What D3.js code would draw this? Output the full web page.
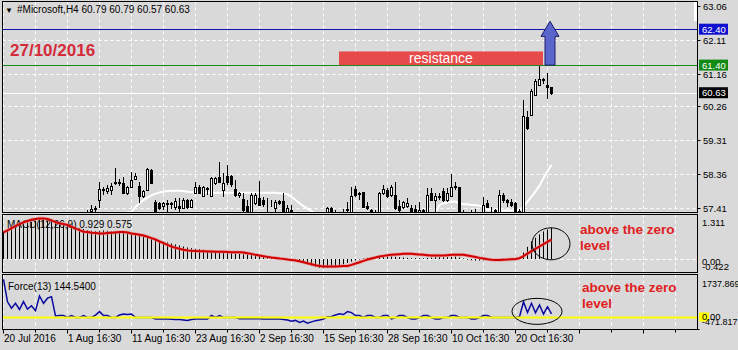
<!DOCTYPE html>
<html>
<head>
<meta charset="utf-8">
<script src="https://cdn.jsdelivr.net/npm/d3@7"></script>
<style>
  body { margin: 0; background: #d9d9d9; }
  svg { display: block; }
  text { font-family: "Liberation Sans", Arial, sans-serif; }
</style>
</head>
<body>
<script>
// ---- data (H4 bars, 20 Jul 2016 .. 27 Oct 2016) ----
// [open, high, low, close]; bars below 57.41 sit under the visible range
var ohlc = [
  [55.95,56.40,55.70,56.20],[56.20,56.50,56.00,56.35],[56.35,56.60,56.10,56.25],[56.25,56.45,55.90,56.05],
  [56.05,56.30,55.85,56.15],[56.15,56.55,56.05,56.45],[56.45,56.70,56.30,56.55],[56.55,56.90,56.45,56.80],
  [56.80,57.05,56.60,56.70],[56.70,56.95,56.50,56.85],[56.85,57.10,56.70,56.95],[56.95,57.15,56.75,56.85],
  [56.85,57.05,56.60,56.70],[56.70,56.90,56.40,56.50],[56.50,56.75,56.35,56.60],[56.60,56.85,56.45,56.70],
  [56.70,56.95,56.55,56.80],[56.80,57.00,56.60,56.75],[56.75,57.05,56.65,56.95],[56.95,57.20,56.80,57.05],
  [57.05,57.30,56.90,57.15],[57.15,57.35,57.00,57.25],[57.33,57.50,57.25,57.40],[57.42,57.47,57.30,57.39],
  [57.64,58.15,57.41,57.94],[57.92,58.01,57.78,57.94],[57.90,58.06,57.80,57.97],[57.92,58.11,57.78,58.03],
  [58.15,58.53,58.06,58.11],[58.15,58.22,58.03,58.11],[58.12,58.29,57.83,57.84],[57.84,58.03,57.78,57.99],
  [58.01,58.43,57.97,58.20],[58.22,58.39,58.20,58.31],[58.03,58.15,57.55,57.75],[57.75,57.92,57.69,57.90],
  [57.92,58.53,57.90,58.50],[58.48,58.50,58.08,58.11],[57.59,57.64,57.30,57.31],[57.55,57.59,57.36,57.41],
  [57.47,57.59,57.36,57.56],[57.55,57.64,57.31,57.52],[57.52,57.59,57.40,57.55],[57.45,57.69,57.36,57.62],
  [57.47,57.69,57.30,57.41],[57.43,57.69,57.38,57.64],[57.64,57.66,57.40,57.45],[57.45,57.66,57.41,57.64],
  [57.84,58.15,57.83,58.01],[58.01,58.06,57.80,57.84],[57.75,58.03,57.73,57.99],[57.97,58.01,57.78,57.94],
  [57.75,58.29,57.73,58.25],[58.11,58.29,58.06,58.25],[58.29,58.71,58.11,58.15],[57.92,58.39,57.73,58.11],
  [58.31,58.62,58.06,58.15],[58.31,58.34,58.01,58.09],[57.94,58.20,57.73,57.78],[57.78,57.87,57.69,57.85],
  [57.66,57.83,57.31,57.36],[57.47,57.64,57.30,57.31],[57.31,57.83,57.30,57.78],[57.55,57.83,57.50,57.78],
  [57.71,58.17,57.50,57.50],[57.64,57.73,57.45,57.52],[57.57,57.69,57.31,57.55],[57.55,57.64,57.45,57.57],
  [57.41,57.64,57.31,57.59],[57.61,57.64,57.50,57.55],[57.62,57.83,57.25,57.31],[57.31,57.50,57.25,57.41],
  [57.35,57.50,57.20,57.30],[57.20,57.30,56.80,56.90],[56.90,57.05,56.40,56.50],[56.50,56.70,56.10,56.25],
  [56.25,56.60,56.10,56.45],[56.45,56.80,56.30,56.70],[56.70,56.95,56.50,56.85],[56.85,57.15,56.70,57.00],
  [57.00,57.25,56.90,57.15],[57.30,57.45,57.20,57.43],[57.43,57.44,57.20,57.31],[57.25,57.35,57.00,57.10],
  [57.10,57.30,56.95,57.20],[57.20,57.38,57.05,57.30],[57.35,57.59,57.20,57.38],[57.31,58.01,57.20,57.75],
  [57.94,58.03,57.73,57.78],[57.83,57.87,57.64,57.80],[57.87,57.87,57.41,57.45],[57.47,57.59,57.36,57.43],
  [57.35,57.40,57.10,57.20],[57.20,57.35,57.05,57.28],[57.31,57.87,57.20,57.84],[57.84,58.06,57.78,57.94],
  [57.92,57.97,57.69,57.75],[57.78,58.06,57.73,58.01],[57.78,58.15,57.36,57.43],[57.47,57.64,57.31,57.36],
  [57.45,57.62,57.40,57.59],[57.47,57.69,57.43,57.56],[57.41,57.50,57.31,57.33],[57.38,57.50,57.30,57.33],
  [57.31,57.59,57.25,57.36],[57.35,57.40,57.20,57.30],[57.31,57.97,57.25,57.78],[57.84,57.97,57.64,57.64],
  [57.64,57.83,57.31,57.75],[57.73,57.84,57.64,57.75],[57.90,57.97,57.59,57.64],[57.64,57.97,57.59,57.83],
  [57.75,58.37,57.73,57.99],[58.01,58.15,57.92,58.04],[57.99,58.01,57.20,57.31],[57.25,57.35,57.00,57.10],
  [57.10,57.30,56.95,57.20],[57.20,57.35,57.05,57.25],[57.25,57.38,57.10,57.15],[57.15,57.30,57.00,57.28],
  [57.31,57.73,57.20,57.50],[57.55,57.64,57.41,57.45],[57.40,57.45,57.30,57.38],[57.35,57.40,57.20,57.30],
  [57.31,57.92,57.20,57.78],[57.78,57.83,57.55,57.64],[57.64,57.66,57.45,57.59],[57.59,57.66,57.45,57.50],
  [57.55,57.58,57.20,57.31],[57.33,57.40,57.25,57.30],[57.30,60.44,57.25,59.98],[59.96,60.12,59.60,59.65],
  [60.02,60.74,59.98,60.68],[60.58,61.00,60.56,60.96],[60.84,61.38,60.82,61.00],[60.99,61.05,60.86,61.02],
  [60.84,61.19,60.46,60.80],[60.79,60.79,60.57,60.63]
];

// white moving average on the price panel
var maLine = [
  55.60,55.70,55.80,55.90,56.00,56.10,56.20,56.30,56.40,56.50,
  56.58,56.66,56.74,56.82,56.88,56.94,57.00,57.04,57.08,57.12,
  57.15,57.17,57.19,57.20,57.21,57.22,57.23,57.24,57.25,57.26,
  57.27,57.29,57.31,57.45,57.55,57.64,57.71,57.77,57.82,57.85,
  57.87,57.89,57.90,57.90,57.90,57.89,57.87,57.86,57.85,57.85,
  57.85,57.85,57.85,57.84,57.84,57.84,57.84,57.84,57.84,57.84,
  57.84,57.84,57.84,57.84,57.84,57.84,57.84,57.84,57.84,57.83,
  57.82,57.80,57.73,57.64,57.55,57.47,57.40,57.33,57.25,57.18,
  57.15,57.12,57.10,57.10,57.10,57.12,57.14,57.15,57.16,57.17,
  57.17,57.18,57.18,57.18,57.19,57.19,57.19,57.20,57.20,57.20,
  57.20,57.20,57.20,57.20,57.21,57.22,57.23,57.25,57.28,57.50,
  57.55,57.57,57.59,57.60,57.55,57.52,57.52,57.50,57.50,57.48,
  57.45,57.37,57.35,57.35,57.35,57.35,57.35,57.35,57.35,57.37,
  57.45,57.60,57.73,57.88,58.04,58.25,58.44,58.62
];

// MACD(12,26,9): histogram = main, red = signal
var macdMain = [
  0.82,0.88,0.93,0.97,1.01,1.05,1.08,1.10,1.15,1.19,
  1.22,1.21,1.18,1.13,1.08,1.04,1.01,0.98,0.95,0.92,
  0.89,0.86,0.84,0.83,0.84,0.85,0.84,0.83,0.83,0.82,
  0.80,0.79,0.76,0.73,0.70,0.67,0.64,0.61,0.58,0.55,
  0.52,0.49,0.46,0.43,0.40,0.37,0.34,0.32,0.30,0.29,
  0.27,0.25,0.23,0.20,0.19,0.19,0.18,0.17,0.16,0.15,
  0.14,0.13,0.12,0.11,0.10,0.08,0.06,0.05,0.04,0.03,
  0.02,0.00,-0.02,-0.05,-0.08,-0.12,-0.16,-0.20,-0.24,-0.27,
  -0.28,-0.27,-0.25,-0.22,-0.19,-0.16,-0.12,-0.08,-0.05,-0.02,
  0.01,0.03,0.04,0.04,0.05,0.06,0.07,0.07,0.06,0.05,
  0.04,0.03,0.02,0.02,0.02,0.02,0.03,0.04,0.05,0.05,
  0.05,0.05,0.06,0.07,0.04,0.01,-0.02,-0.04,-0.05,-0.05,
  -0.04,-0.03,-0.03,-0.02,0.00,0.01,0.01,0.00,-0.02,0.05,
  0.19,0.36,0.52,0.63,0.73,0.82,0.88,0.929
];
var macdSignal = [
  0.79,0.85,0.92,0.98,1.04,1.09,1.13,1.17,1.19,1.21,
  1.21,1.19,1.15,1.10,1.06,1.04,1.01,0.96,0.91,0.86,
  0.81,0.80,0.78,0.77,0.76,0.76,0.77,0.78,0.79,0.80,
  0.80,0.79,0.76,0.74,0.72,0.70,0.66,0.62,0.58,0.52,
  0.47,0.42,0.37,0.33,0.30,0.27,0.25,0.24,0.235,0.23,
  0.225,0.22,0.22,0.215,0.21,0.21,0.205,0.20,0.20,0.195,
  0.19,0.17,0.15,0.12,0.10,0.08,0.06,0.04,0.025,0.01,
  0.00,-0.02,-0.03,-0.05,-0.07,-0.10,-0.13,-0.16,-0.19,-0.21,
  -0.23,-0.23,-0.23,-0.225,-0.22,-0.215,-0.21,-0.18,-0.14,-0.10,
  -0.06,-0.02,0.01,0.04,0.07,0.09,0.11,0.12,0.13,0.14,
  0.15,0.15,0.15,0.14,0.13,0.12,0.11,0.10,0.10,0.10,
  0.10,0.11,0.12,0.125,0.125,0.12,0.10,0.08,0.055,0.03,
  0.01,-0.01,-0.027,-0.03,-0.03,-0.025,-0.02,-0.01,-0.005,0.02,
  0.08,0.16,0.23,0.30,0.37,0.44,0.51,0.575
];

// Force(13)
var forceIdx = [
  1560,640,380,580,330,650,340,480,280,880,
  580,790,850,60,80,80,0,80,0,0,
  80,0,0,100,240,80,80,0,0,100,
  140,120,140,0,0,0,0,0,-60,-60,
  -60,-60,-70,-80,-80,-100,-120,-80,-60,-60,
  -60,-60,80,0,80,0,0,0,0,-50,
  -50,-50,-50,-50,-50,-60,-60,-60,-60,-60,
  -80,-100,-150,-120,-200,-150,-237,-180,-130,-100,
  -60,30,40,100,150,120,240,200,80,80,
  0,80,80,0,0,80,80,-60,0,80,
  80,0,-60,-60,0,80,80,0,-60,-60,
  0,0,80,80,0,0,0,-60,-60,0,
  80,80,0,0,0,0,0,0,0,30,
  646,200,580,196,510,143,440,144.54
];

var priceTicks = [63.06, 62.11, 61.16, 60.26, 59.31, 58.36, 57.41];
var resistanceLevel = 61.40, targetLevel = 62.40, lastPrice = 60.63;
var timeLabels = [
  { bar: 0,   text: "20 Jul 2016" },
  { bar: 16,  text: "1 Aug 16:30" },
  { bar: 32,  text: "11 Aug 16:30" },
  { bar: 48,  text: "23 Aug 16:30" },
  { bar: 64,  text: "2 Sep 16:30" },
  { bar: 80,  text: "15 Sep 16:30" },
  { bar: 96,  text: "28 Sep 16:30" },
  { bar: 112, text: "10 Oct 16:30" },
  { bar: 128, text: "20 Oct 16:30" }
];

// ---- layout ----
var width = 738, height = 350;
var left = 2.5, right = 697.5;
var main = { top: 1.5, bottom: 212.5 },
    macdP = { top: 214.5, bottom: 272.5 },
    forceP = { top: 274.5, bottom: 329.5 };

var x = d3.scaleLinear().domain([0, 1]).range([3, 7]);   // 4px per bar
var yPrice = d3.scaleLinear().domain([57.41, 63.06]).range([208.3, 5.5]);
var yMacd = d3.scaleLinear().domain([-0.422, 1.311]).range([273, 215]);
var yForce = d3.scaleLinear().domain([-471.817, 1737.869]).range([329, 275]);

var svg = d3.select("body").append("svg")
    .attr("width", width)
    .attr("height", height);

svg.append("rect").attr("width", width).attr("height", height).attr("fill", "#d9d9d9");

var defs = svg.append("defs");
function clip(id, p) {
    defs.append("clipPath").attr("id", id).append("rect")
        .attr("x", left).attr("y", p.top)
        .attr("width", right - left).attr("height", p.bottom - p.top);
    return svg.append("g").attr("clip-path", "url(#" + id + ")");
}
var gMain = clip("cMain", main),
    gMacd = clip("cMacd", macdP),
    gForce = clip("cForce", forceP);

// vertical dashed grid every 8 bars, all panels
var gridBars = d3.range(0, 175, 8);
[[gMain, main], [gMacd, macdP], [gForce, forceP]].forEach(function(pp) {
    pp[0].selectAll(".vg").data(gridBars).enter().append("line")
        .attr("x1", function(d) { return x(d) + 0.5; })
        .attr("x2", function(d) { return x(d) + 0.5; })
        .attr("y1", pp[1].top).attr("y2", pp[1].bottom)
        .attr("stroke", "#fff").attr("stroke-dasharray", "3,3");
});

// horizontal dashed grid on price panel
gMain.selectAll(".hg").data(priceTicks.slice(1)).enter().append("line")
    .attr("x1", left).attr("x2", right)
    .attr("y1", function(d) { return Math.round(yPrice(d)) + 0.5; })
    .attr("y2", function(d) { return Math.round(yPrice(d)) + 0.5; })
    .attr("stroke", "#fff").attr("stroke-dasharray", "3,3");

// chart-shift strip at the top right corner
gMain.append("rect").attr("x", right - 3.5).attr("y", main.top)
    .attr("width", 3.5).attr("height", yPrice(62.62) - main.top).attr("fill", "#fff");

// level lines
gMain.append("line").attr("x1", left).attr("x2", right)
    .attr("y1", Math.round(yPrice(targetLevel)) + 0.5).attr("y2", Math.round(yPrice(targetLevel)) + 0.5)
    .attr("stroke", "#1010b0");
gMain.append("line").attr("x1", left).attr("x2", right)
    .attr("y1", Math.round(yPrice(resistanceLevel)) + 0.5).attr("y2", Math.round(yPrice(resistanceLevel)) + 0.5)
    .attr("stroke", "#1a8a1a");
gMain.append("line").attr("x1", left).attr("x2", right)
    .attr("y1", Math.round(yPrice(lastPrice)) + 0.5).attr("y2", Math.round(yPrice(lastPrice)) + 0.5)
    .attr("stroke", "#fff");

// moving average
gMain.append("path").datum(maLine)
    .attr("fill", "none").attr("stroke", "#fff").attr("stroke-width", 2)
    .attr("d", d3.line().x(function(d, i) { return x(i) + 0.5; }).y(function(d) { return yPrice(d); }));

// candles
var candles = gMain.selectAll(".candle").data(ohlc).enter().append("g").attr("class", "candle");
candles.append("line")
    .attr("x1", function(d, i) { return x(i) + 0.5; })
    .attr("x2", function(d, i) { return x(i) + 0.5; })
    .attr("y1", function(d) { return Math.round(yPrice(d[1])); })
    .attr("y2", function(d) { return Math.round(yPrice(d[2])); })
    .attr("stroke", "#000");
candles.append("rect")
    .attr("x", function(d, i) { return x(i) - 0.5; })
    .attr("width", 2)
    .attr("y", function(d) { return Math.round(yPrice(Math.max(d[0], d[3]))) + 0.5; })
    .attr("height", function(d) { return Math.max(0, Math.round(yPrice(Math.min(d[0], d[3]))) - Math.round(yPrice(Math.max(d[0], d[3])))); })
    .attr("fill", function(d) { return d[3] >= d[0] ? "#fff" : "#000"; })
    .attr("stroke", "#000");

// annotations on price panel
svg.append("text").attr("x", 10).attr("y", 56)
    .attr("font-size", 17).attr("font-weight", "bold").attr("fill", "#d42a3a")
    .text("27/10/2016");

var resTop = yPrice(61.78), resBot = yPrice(resistanceLevel);
svg.append("rect").attr("x", x(84)).attr("y", resTop)
    .attr("width", x(135) - x(84)).attr("height", resBot - resTop)
    .attr("fill", "#e64a4a");
svg.append("text").attr("x", (x(84) + x(135)) / 2).attr("y", resBot - 2.5)
    .attr("text-anchor", "middle").attr("font-size", 14).attr("fill", "#fff")
    .text("resistance");

// blue arrow
var ax = x(137) - 1, aBase = resBot, aNeck = yPrice(62.20), aTip = yPrice(62.62);
svg.append("path")
    .attr("d", "M" + (ax - 5) + "," + aBase + "V" + aNeck + "H" + (ax - 9) + "L" + ax + "," + aTip +
               "L" + (ax + 9) + "," + aNeck + "H" + (ax + 5) + "V" + aBase + "Z")
    .attr("fill", "#5a66cc").attr("stroke", "#1a1a6a").attr("stroke-width", 1);

// title
svg.append("text").attr("x", 5).attr("y", 13).attr("font-size", 8).attr("font-family", "DejaVu Sans").text("\u25BC");
svg.append("text").attr("x", 17).attr("y", 13).attr("font-size", 10)
    .text("#Microsoft,H4  60.79 60.79 60.57 60.63");

// ---- MACD panel ----
gMacd.append("text").attr("x", 7).attr("y", 228).attr("font-size", 10).text("MACD(12,26,9) 0.929 0.575");
gMacd.append("line").attr("x1", left).attr("x2", right)
    .attr("y1", Math.round(yMacd(0)) + 0.5).attr("y2", Math.round(yMacd(0)) + 0.5)
    .attr("stroke", "#fff").attr("stroke-dasharray", "3,3");
gMacd.selectAll(".bar").data(macdMain).enter().append("line")
    .attr("x1", function(d, i) { return x(i) + 0.5; })
    .attr("x2", function(d, i) { return x(i) + 0.5; })
    .attr("y1", Math.round(yMacd(0)))
    .attr("y2", function(d) { return yMacd(d); })
    .attr("stroke", "#000");
var sigLine = d3.line().x(function(d, i) { return x(i) + 0.5; }).y(function(d) { return yMacd(d); });
gMacd.append("path").datum(macdSignal).attr("d", sigLine)
    .attr("fill", "none").attr("stroke", "#f08080").attr("stroke-width", 3.5).attr("opacity", 0.6);
gMacd.append("path").datum(macdSignal).attr("d", sigLine)
    .attr("fill", "none").attr("stroke", "#d00000").attr("stroke-width", 2);

gMacd.append("ellipse").attr("cx", x(137)).attr("cy", yMacd(0.45))
    .attr("rx", 19).attr("ry", 16).attr("fill", "none").attr("stroke", "#000");
gMacd.append("text").attr("x", 580).attr("y", 234).attr("font-size", 13.5).attr("font-weight", "bold")
    .attr("fill", "#e02020").text("above the zero");
gMacd.append("text").attr("x", 580).attr("y", 250).attr("font-size", 13.5).attr("font-weight", "bold")
    .attr("fill", "#e02020").text("level");

// ---- Force panel ----
gForce.append("text").attr("x", 8).attr("y", 290).attr("font-size", 10).text("Force(13) 144.5400");
gForce.append("path").datum(forceIdx)
    .attr("fill", "none").attr("stroke", "#0a0aa0").attr("stroke-width", 1.5)
    .attr("d", d3.line().x(function(d, i) { return x(i) + 0.5; }).y(function(d) { return yForce(d); }));
gForce.append("line").attr("x1", left).attr("x2", right)
    .attr("y1", yForce(0)).attr("y2", yForce(0))
    .attr("stroke", "#ffff00").attr("stroke-width", 2);
gForce.append("ellipse").attr("cx", x(133.5)).attr("cy", yForce(250))
    .attr("rx", 25).attr("ry", 13).attr("fill", "none").attr("stroke", "#000");
gForce.append("text").attr("x", 582).attr("y", 292).attr("font-size", 13.5).attr("font-weight", "bold")
    .attr("fill", "#e02020").text("above the zero");
gForce.append("text").attr("x", 582).attr("y", 308).attr("font-size", 13.5).attr("font-weight", "bold")
    .attr("fill", "#e02020").text("level");

// ---- frames ----
[main, macdP, forceP].forEach(function(p) {
    svg.append("rect").attr("x", left).attr("y", p.top)
        .attr("width", right - left).attr("height", p.bottom - p.top)
        .attr("fill", "none").attr("stroke", "#000");
});

// ---- right price axis ----
var axisG = svg.append("g").attr("font-size", 9.5);
axisG.selectAll(".pt").data(priceTicks).enter().append("g").each(function(d) {
    var yy = Math.round(yPrice(d)) + 0.5;
    d3.select(this).append("line").attr("x1", right).attr("x2", right + 3).attr("y1", yy).attr("y2", yy).attr("stroke", "#000");
    d3.select(this).append("text").attr("x", 703).attr("y", yy + 3.5).text(d.toFixed(2));
});
[[targetLevel, "#1010d0", "#fff"], [resistanceLevel, "#138a13", "#fff"], [lastPrice, "#000", "#fff"]].forEach(function(b) {
    var yy = yPrice(b[0]);
    axisG.append("rect").attr("x", 699).attr("y", yy - 5.5).attr("width", 29).attr("height", 11).attr("fill", b[1]);
    axisG.append("text").attr("x", 702).attr("y", yy + 3.5).attr("fill", b[2]).text(b[0].toFixed(2));
});

// MACD / Force scale labels
axisG.append("text").attr("x", 702).attr("y", 225.5).text("1.311");
axisG.append("text").attr("x", 702).attr("y", 265).text("0.00");
axisG.append("text").attr("x", 702).attr("y", 270).text("-0.422");
axisG.append("text").attr("x", 702).attr("y", 287).attr("font-size", 9).text("1737.869");
axisG.append("rect").attr("x", 699).attr("y", yForce(0) - 5).attr("width", 10).attr("height", 9).attr("fill", "#ffff00");
axisG.append("text").attr("x", 702).attr("y", 320).text("0.00");
axisG.append("text").attr("x", 702).attr("y", 325).attr("font-size", 9).text("-471.817");

// ---- bottom time axis ----
svg.append("line").attr("x1", left).attr("x2", right + 2).attr("y1", forceP.bottom).attr("y2", forceP.bottom).attr("stroke", "#000");
svg.selectAll(".tt").data(gridBars.filter(function(d) { return x(d) < right; })).enter().append("line")
    .attr("x1", function(d) { return x(d) + 0.5; })
    .attr("x2", function(d) { return x(d) + 0.5; })
    .attr("y1", forceP.bottom)
    .attr("y2", function(d) { return forceP.bottom + (d % 16 === 0 ? 4 : 3); })
    .attr("stroke", "#000");
svg.selectAll(".tl").data(timeLabels).enter().append("text")
    .attr("x", function(d) { return x(d.bar) + 1; })
    .attr("y", 342)
    .attr("font-size", 10)
    .text(function(d) { return d.text; });
</script>
</body>
</html>
